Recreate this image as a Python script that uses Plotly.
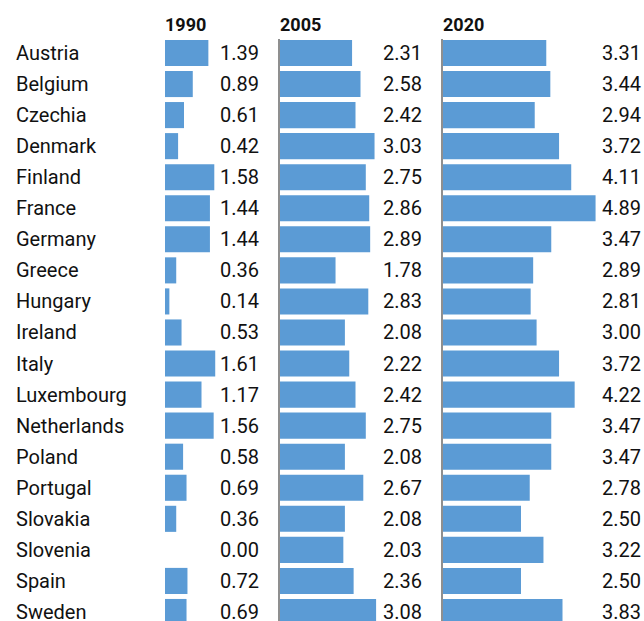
import plotly.graph_objects as go

countries = ["Austria", "Belgium", "Czechia", "Denmark", "Finland", "France",
             "Germany", "Greece", "Hungary", "Ireland", "Italy", "Luxembourg",
             "Netherlands", "Poland", "Portugal", "Slovakia", "Slovenia",
             "Spain", "Sweden"]
v1990 = [1.39, 0.89, 0.61, 0.42, 1.58, 1.44, 1.44, 0.36, 0.14, 0.53, 1.61,
         1.17, 1.56, 0.58, 0.69, 0.36, 0.00, 0.72, 0.69]
v2005 = [2.31, 2.58, 2.42, 3.03, 2.75, 2.86, 2.89, 1.78, 2.83, 2.08, 2.22,
         2.42, 2.75, 2.08, 2.67, 2.08, 2.03, 2.36, 3.08]
v2020 = [3.31, 3.44, 2.94, 3.72, 4.11, 4.89, 3.47, 2.89, 2.81, 3.00, 3.72,
         4.22, 3.47, 3.47, 2.78, 2.50, 3.22, 2.50, 3.83]
years = ["1990", "2005", "2020"]

W, H = 644, 621
BLUE = "#5b9bd5"
FONT = "Roboto"
TXT = "#111111"
PX_PER_UNIT = 31.2

# panel pixel extents (left = bar zero, right = label edge)
panels = [(165, 261), (280, 424), (443, 643)]
series = [v1990, v2005, v2020]

fig = go.Figure()
annotations = []
layout_axes = {}

for i, ((x0, x1), vals, yr) in enumerate(zip(panels, series, years)):
    n = "" if i == 0 else str(i + 1)
    fig.add_trace(go.Bar(
        x=vals, y=countries, orientation="h",
        marker=dict(color=BLUE, line=dict(width=0)),
        xaxis="x" + n, yaxis="y" + n,
        showlegend=False, hoverinfo="x+y",
    ))
    layout_axes["xaxis" + n] = dict(
        domain=[x0 / W, x1 / W],
        range=[0, (x1 - x0) / PX_PER_UNIT],
        showgrid=False, zeroline=False, showticklabels=False,
        showline=False, anchor="y" + n, fixedrange=True,
    )
    layout_axes["yaxis" + n] = dict(
        type="category", categoryorder="array", categoryarray=countries,
        range=[18.29, -0.45], autorange=False,
        showgrid=False, zeroline=False, showticklabels=False,
        showline=(i > 0), linecolor="#8f8f8f", linewidth=2,
        anchor="x" + n, fixedrange=True,
    )
    annotations.append(dict(
        text="<b>" + yr + "</b>", xref="x" + n + " domain", x=0,
        xanchor="left", xshift=-2, yref="paper", y=1, yanchor="bottom",
        yshift=2, showarrow=False,
        font=dict(family=FONT, size=18, color=TXT),
    ))
    for c, v in zip(countries, vals):
        annotations.append(dict(
            text=f"{v:.2f}", xref="x" + n + " domain", x=1, xanchor="right",
            yref="y" + n, y=c, yanchor="middle", showarrow=False,
            font=dict(family=FONT, size=20, color=TXT),
        ))

for c in countries:
    annotations.append(dict(
        text=c, xref="paper", x=14 / W, xanchor="left", yref="y", y=c,
        yanchor="middle", showarrow=False,
        font=dict(family=FONT, size=20, color=TXT),
    ))

fig.update_layout(
    width=W, height=H,
    margin=dict(l=0, r=0, t=39, b=0),
    paper_bgcolor="white", plot_bgcolor="white",
    bargap=0.16,
    annotations=annotations,
    **layout_axes,
)

fig.write_html(
    "out.html",
    config={"displayModeBar": False},
    post_script="document.body.style.margin='0';"
                "document.body.style.overflow='hidden';",
)
